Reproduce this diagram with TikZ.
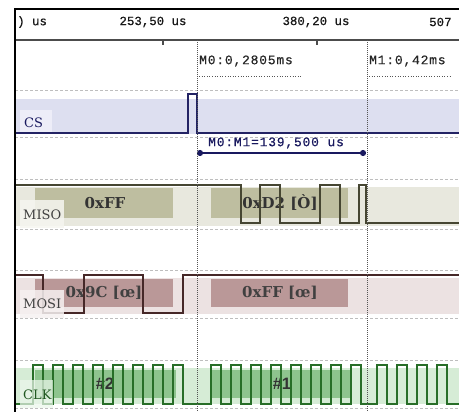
\documentclass[tikz,border=0pt]{standalone}
\usepackage{fontspec}
\usetikzlibrary{arrows.meta}
\newfontfamily\rulerfont[FakeBold=0.5]{Liberation Mono}
\newfontfamily\markfont[LetterSpace=6,FakeBold=0.3]{Liberation Mono}
\newfontfamily\datafont{DejaVu Serif}
\newfontfamily\hashfont{Liberation Sans}
\definecolor{csband}{RGB}{221,223,240}
\definecolor{cslab}{RGB}{240,240,250}
\definecolor{cssig}{RGB}{35,35,100}
\definecolor{misoband}{RGB}{232,232,222}
\definecolor{misobox}{RGB}{190,190,160}
\definecolor{misolab}{RGB}{246,246,240}
\definecolor{misosig}{RGB}{70,70,50}
\definecolor{mosiband}{RGB}{236,226,226}
\definecolor{mosibox}{RGB}{186,152,152}
\definecolor{mosilab}{RGB}{246,241,241}
\definecolor{mosisig}{RGB}{70,40,40}
\definecolor{clkband}{RGB}{214,236,214}
\definecolor{clkbox}{RGB}{142,196,142}
\definecolor{clklab}{RGB}{236,247,236}
\definecolor{clksig}{RGB}{40,110,40}
\definecolor{sepgray}{RGB}{190,190,190}
\definecolor{markgray}{RGB}{85,85,85}
\definecolor{navy}{RGB}{25,25,95}
\begin{document}
\begin{tikzpicture}[x=1pt,y=-1pt,
  sep/.style={sepgray,dashed,dash pattern=on 3pt off 2pt,line width=0.8pt},
  sig/.style={line width=1.2pt,line join=miter},
  markerline/.style={markgray,densely dotted,line width=1pt},
  ruler/.style={inner sep=0pt,font=\rulerfont\fontsize{12.4}{14}\selectfont,text=black!90},
  mktext/.style={inner sep=0pt,font=\markfont\fontsize{13}{15}\selectfont,text=black!85},
  lab/.style={inner sep=0pt,anchor=west,font=\datafont\fontsize{13}{15}\selectfont},
  data/.style={inner sep=0pt,font=\datafont\bfseries\fontsize{15}{17}\selectfont},
  hash/.style={inner sep=0pt,font=\hashfont\bfseries\fontsize{16.5}{18}\selectfont,text=black!80}]
\useasboundingbox (0,0) rectangle (459,412);
\fill[white] (0,0) rectangle (459,412);
\begin{scope}
\clip (15,9) rectangle (459,412);
% header
\node[ruler,anchor=west] (t0) at (17,22) {) us};
\node[ruler] (t1) at (153,22) {253,50 us};
\node[ruler] (t2) at (316,22) {380,20 us};
\node[ruler,anchor=west] (t3) at (429,22) {507};
\draw[black!70,line width=1.5pt] (15,40) -- (459,40);
\draw[black!70,line width=1.2pt] (163,40) -- (163,45);
\draw[black!70,line width=1.2pt] (317,40) -- (317,45);
% marker labels
\node[mktext,anchor=west] (m0lab) at (199,61) {M0:0,2805ms};
\node[mktext,anchor=west] (m1lab) at (369,61) {M1:0,42ms};
\draw[markgray,dotted,line width=0.6pt] (199,76) -- (301,76);
\draw[markgray,dotted,line width=0.6pt] (369,76) -- (452,76);
% separators
\foreach \y in {90,137,179,229,270,318,360,408}
  \draw[sep] (15,\y) -- (459,\y);
% CS row
\fill[csband] (15,99) rectangle (459,134);
\fill[cslab,opacity=0.85] (20,110) rectangle (52,134);
\node[lab,text=navy] (cslabel) at (24,123) {CS};
\draw[sig,cssig] (15,133) -- (188,133) -- (188,94) -- (197,94) -- (197,133) -- (459,133);
% measurement
\coordinate (ma) at (197,153);
\coordinate (mb) at (366,153);
\draw[navy,line width=2pt,{Circle[length=6pt]}-{Circle[length=6pt]}] (ma) -- (mb);
\node[mktext,anchor=west,text=navy] (meas) at (208,143) {M0:M1=139,500 us};
% MISO row
\fill[misoband] (15,187) rectangle (459,226);
\fill[misobox] (35,188) rectangle (173,218);
\fill[misobox] (211,188) rectangle (348,218);
\node[data,text=black!80] (d1) at (105,203) {0xFF};
\node[data,text=black!80] (d2) at (280,203) {0xD2 [Ò]};
\draw[sig,misosig] (15,185) -- (241,185) -- (241,223) -- (260,223) -- (260,185) -- (280,185) -- (280,223) -- (320,223) -- (320,185) -- (340,185) -- (340,223) -- (359,223) -- (359,185) -- (366,185) -- (366,223) -- (459,223);
\fill[misolab,opacity=0.85] (20,200) rectangle (64,228);
\node[lab,text=black!75] (misolabel) at (23,215) {MISO};
% MOSI row
\fill[mosiband] (15,278) rectangle (459,314);
\fill[mosibox] (35,279) rectangle (173,307);
\fill[mosibox] (211,279) rectangle (348,307);
\node[data,text=black!75] (d3) at (104,293) {0x9C [œ]};
\node[data,text=black!75] (d4) at (280,293) {0xFF [œ]};
\draw[sig,mosisig] (15,275) -- (43,275) -- (43,313) -- (84,313) -- (84,275) -- (143,275) -- (143,313) -- (183,313) -- (183,275) -- (459,275);
\fill[mosilab,opacity=0.85] (20,290) rectangle (64,318);
\node[lab,text=black!75] (mosilabel) at (23,304) {MOSI};
% CLK row
\fill[clkband] (15,368) rectangle (459,404);
\fill[clkbox] (35,370) rectangle (176,398);
\fill[clkbox] (211,370) rectangle (350,398);
\node[hash] (h2) at (105,384) {\#2};
\node[hash] (h1) at (282,384) {\#1};
\draw[sig,clksig] (15,404)
  foreach \x in {33,53,...,173} { -- (\x,404) -- (\x,365) -- (\x+10,365) -- (\x+10,404) }
  foreach \x in {211,231,...,351} { -- (\x,404) -- (\x,365) -- (\x+10,365) -- (\x+10,404) }
  foreach \x in {377,397,...,437} { -- (\x,404) -- (\x,365) -- (\x+10,365) -- (\x+10,404) }
  -- (459,404);
\fill[clklab,opacity=0.7] (20,380) rectangle (53,408);
\node[lab,text=clksig!80!black] (clklabel) at (23,395) {CLK};
% markers
\draw[markerline] (197,40) -- (197,412);
\draw[markerline] (367,40) -- (367,412);
\end{scope}
% frame
\draw[black,line width=1.2pt] (15,412) -- (15,9) -- (459,9);
\end{tikzpicture}
\end{document}
